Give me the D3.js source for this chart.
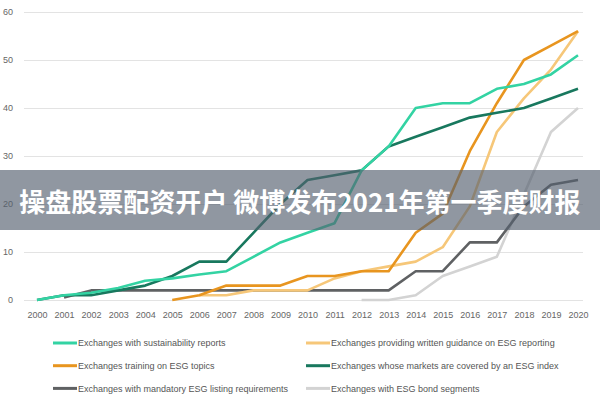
<!DOCTYPE html>
<html>
<head>
<meta charset="utf-8">
<script src="https://cdn.jsdelivr.net/npm/d3@7"></script>
<style>
  body { margin: 0; background: #fff; }
  svg { display: block; font-family: "Liberation Sans", Arial, sans-serif; }
  .tick text { fill: #666; font-size: 9px; }
  .legend text { fill: #555; font-size: 9px; }
</style>
</head>
<body>
<svg id="chart" width="600" height="400"></svg>
<script>
const years = d3.range(2000, 2021);
const yTicks = [0, 10, 20, 30, 40, 50, 60];

// one value per year, null where the series is not drawn
const sustainabilityReports = [0, 1, 1.5, 2.5, 4, 4.5, 5.3, 6, 9, 12, 14, 16, 27, 32, 40, 41, 41, 44, 45, 47, 51];
const writtenGuidance = [null, null, null, null, null, null, 1, 1, 2, 2, 2, 4.5, 6, 7, 8, 11, 19.5, 35, 42, 48, 56];
const trainingTopics = [null, null, null, null, null, 0, 1, 3, 3, 3, 5, 5, 6, 6, 14, 18, 31, 41, 50, 53, 56];
const esgIndex = [0, 1, 1, 2, 3, 5, 8, 8, 14, 20, 25, 26, 27, 32, 34, 36, 38, 39, 40, 42, 44];
const mandatoryListing = [null, 0.5, 2, 2, 2, 2, 2, 2, 2, 2, 2, 2, 2, 2, 6, 6, 12, 12, 19.5, 24, 25];
const bondSegments = [null, null, null, null, null, null, null, null, null, null, null, null, 0, 0, 1, 5, 7, 9, 22, 35, 40];

const seriesNames = [
    "Exchanges with sustainability reports",
    "Exchanges providing written guidance on ESG reporting",
    "Exchanges training on ESG topics",
    "Exchanges whose markets are covered by an ESG index",
    "Exchanges with mandatory ESG listing requirements",
    "Exchanges with ESG bond segments"
];
const seriesValues = [sustainabilityReports, writtenGuidance, trainingTopics, esgIndex, mandatoryListing, bondSegments];
const seriesColors = ["#33d3a3", "#f6c779", "#e8951f", "#18785e", "#5f6163", "#d3d3d3"];

const bannerText = "操盘股票配资开户 微博发布2021年第一季度财报";

const svg = d3.select("#chart");

const xScale = d3.scaleLinear().domain([2000, 2020]).range([37, 578]);
const yScale = d3.scaleLinear().domain([0, 60]).range([300, 12]);

// Left axis with grid lines
const leftAxis = d3.axisLeft(yScale)
    .tickValues(yTicks)
    .tickSize(-559)
    .tickPadding(11);
const gy = svg.append("g")
    .attr("transform", "translate(24,0)")
    .call(leftAxis);
gy.select(".domain").remove();
gy.selectAll(".tick line").attr("stroke", "#e3e3e3");

// Bottom axis, labels only
const bottomAxis = d3.axisBottom(xScale)
    .tickValues(years)
    .tickFormat(d3.format("d"))
    .tickSize(0)
    .tickPadding(12);
const gx = svg.append("g")
    .attr("transform", "translate(0,300)")
    .call(bottomAxis);
gx.select(".domain").remove();

// Lines, drawn back to front
const line = d3.line()
    .defined(d => d.v != null)
    .x(d => xScale(d.year))
    .y(d => yScale(d.v));

const drawOrder = [5, 4, 1, 2, 3, 0];
drawOrder.forEach(i => {
    const pts = years.map((year, j) => ({ year, v: seriesValues[i][j] }));
    svg.append("path")
        .datum(pts)
        .attr("fill", "none")
        .attr("stroke", seriesColors[i])
        .attr("stroke-width", 2.6)
        .attr("stroke-linejoin", "round")
        .attr("d", line);
});

// Legend, two columns
const legend = svg.append("g").attr("class", "legend");
const legendItems = legend.selectAll("g")
    .data(seriesNames)
    .join("g")
    .attr("transform", (d, i) => `translate(${i % 2 === 0 ? 53 : 306},${343 + Math.floor(i / 2) * 22.7})`);
legendItems.append("line")
    .attr("x1", 0).attr("x2", 24)
    .attr("stroke", (d, i) => seriesColors[i])
    .attr("stroke-width", 3);
legendItems.append("text")
    .attr("x", 25)
    .attr("dy", "0.35em")
    .text(d => d);

// Overlay banner
svg.append("rect")
    .attr("x", 0).attr("y", 170)
    .attr("width", 600).attr("height", 60)
    .attr("fill", "rgba(85,95,110,0.65)");
svg.append("text")
    .attr("x", 300).attr("y", 200)
    .attr("text-anchor", "middle")
    .attr("dominant-baseline", "central")
    .attr("fill", "#fff")
    .attr("font-family", "'Noto Sans CJK SC', sans-serif")
    .attr("font-weight", "bold")
    .attr("font-size", 26)
    .text(bannerText);
</script>
</body>
</html>
